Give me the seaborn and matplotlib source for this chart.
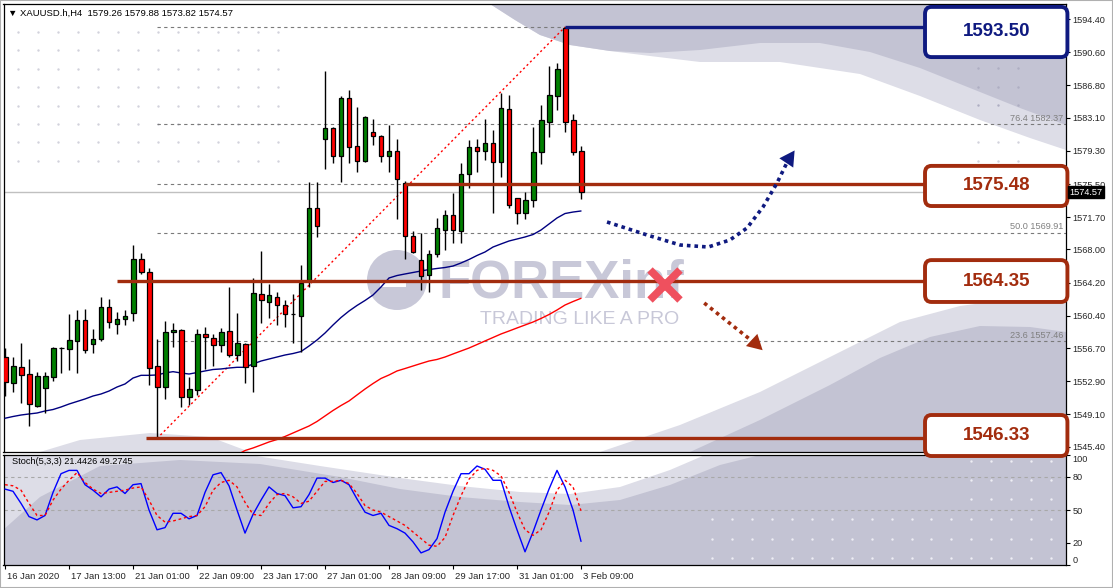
import matplotlib
matplotlib.use("Agg")
import matplotlib.pyplot as plt
import matplotlib.transforms as mtransforms
from matplotlib.patches import Polygon, FancyBboxPatch, Ellipse, Rectangle
import numpy as np
import seaborn as sns

# ---------------------------------------------------------------- data
# XAUUSD H4 candles, bar 0 = 16 Jan 2020 05:00 ... bar 72 = 3 Feb 09:00
opens = [1555.71, 1552.66, 1554.53, 1553.69, 1550.09, 1552.15, 1553.41, 1556.65, 1556.62, 1557.54,
         1559.91, 1557.20, 1557.70, 1561.37, 1559.49, 1560.00, 1560.68, 1566.87, 1565.38, 1554.61,
         1552.20, 1558.50, 1558.77, 1551.05, 1551.89, 1558.27, 1557.81, 1557.01, 1558.62, 1555.87,
         1557.13, 1554.64, 1562.86, 1561.94, 1562.52, 1561.60, 1560.55, 1560.41, 1564.50, 1572.72,
         1580.63, 1581.96, 1578.75, 1585.33, 1579.82, 1578.10, 1581.46, 1580.97, 1578.75, 1579.29,
         1575.65, 1569.54, 1566.79, 1565.04, 1567.48, 1570.23, 1571.91, 1570.12, 1576.62, 1579.74,
         1579.29, 1580.17, 1577.99, 1584.07, 1573.93, 1572.14, 1573.67, 1579.21, 1582.64, 1585.59,
         1593.40, 1582.84, 1579.26]
highs = [1556.70, 1555.64, 1557.24, 1555.41, 1553.92, 1553.92, 1556.85, 1556.85, 1560.60, 1561.06,
         1561.14, 1558.88, 1562.58, 1562.32, 1560.86, 1561.06, 1568.51, 1567.56, 1565.84, 1557.70,
         1559.76, 1559.57, 1558.88, 1553.34, 1558.84, 1559.08, 1558.34, 1558.96, 1563.73, 1560.72,
         1557.24, 1564.73, 1567.86, 1564.00, 1563.09, 1562.17, 1562.86, 1566.22, 1575.70, 1575.70,
         1588.46, 1582.00, 1585.62, 1586.28, 1584.33, 1583.30, 1582.95, 1581.15, 1582.27, 1580.66,
         1575.85, 1570.08, 1569.85, 1567.94, 1571.57, 1572.52, 1574.44, 1577.88, 1580.55, 1580.66,
         1582.95, 1581.69, 1585.97, 1585.67, 1573.93, 1574.55, 1582.00, 1584.56, 1589.06, 1589.41,
         1593.50, 1583.53, 1579.88]
lows = [1551.24, 1551.66, 1550.40, 1547.80, 1549.97, 1549.29, 1552.95, 1553.87, 1554.18, 1553.87,
        1556.09, 1556.16, 1557.54, 1559.03, 1558.27, 1559.34, 1559.83, 1565.15, 1552.46, 1546.33,
        1550.82, 1556.78, 1549.97, 1550.20, 1551.35, 1554.33, 1554.67, 1556.21, 1555.70, 1555.25,
        1552.73, 1551.69, 1559.60, 1560.11, 1559.34, 1559.15, 1557.31, 1556.28, 1563.73, 1569.46,
        1577.19, 1577.88, 1575.77, 1577.94, 1576.91, 1578.00, 1579.97, 1578.06, 1576.84, 1571.46,
        1566.91, 1567.63, 1563.35, 1563.16, 1567.17, 1567.94, 1568.70, 1568.70, 1575.01, 1576.84,
        1578.25, 1572.21, 1576.27, 1572.72, 1570.92, 1571.46, 1572.83, 1577.80, 1580.92, 1583.99,
        1581.50, 1578.83, 1573.82]
closes = [1552.77, 1554.64, 1553.64, 1550.25, 1553.49, 1553.49, 1556.70, 1556.75, 1557.62, 1559.91,
          1556.44, 1557.70, 1561.37, 1559.65, 1559.99, 1560.41, 1566.87, 1565.38, 1554.44, 1552.20,
          1558.50, 1558.77, 1551.05, 1552.00, 1558.27, 1557.93, 1557.01, 1558.57, 1555.87, 1557.31,
          1554.49, 1562.97, 1562.17, 1562.74, 1561.60, 1560.57, 1560.60, 1564.12, 1572.72, 1570.72,
          1581.96, 1578.75, 1585.33, 1579.71, 1578.10, 1583.15, 1580.97, 1578.75, 1579.29, 1576.04,
          1569.54, 1567.71, 1564.99, 1567.44, 1570.42, 1571.91, 1570.23, 1576.62, 1579.74, 1579.29,
          1580.17, 1577.99, 1584.18, 1573.10, 1572.14, 1573.67, 1579.14, 1582.84, 1585.71, 1588.69,
          1582.64, 1579.21, 1574.57]

# moving averages (navy = fast, red = slow; slow one starts below the visible range)
ma_fast = [1548.65, 1548.85, 1549.02, 1549.14, 1549.25, 1549.48, 1549.65, 1549.94, 1550.28, 1550.57,
           1550.86, 1551.20, 1551.43, 1551.77, 1552.23, 1552.58, 1553.26, 1553.57, 1553.57, 1553.61,
           1553.84, 1553.99, 1553.84, 1553.72, 1553.89, 1554.07, 1554.24, 1554.30, 1554.41, 1554.49,
           1554.49, 1554.87, 1555.21, 1555.44, 1555.67, 1555.90, 1556.07, 1556.30, 1556.93, 1557.62,
           1558.42, 1559.34, 1560.20, 1560.94, 1561.58, 1562.15, 1562.78, 1563.70, 1564.73, 1565.01,
           1565.19, 1565.36, 1565.53, 1565.70, 1565.82, 1565.93, 1566.10, 1566.45, 1566.85, 1567.31,
           1567.71, 1568.28, 1568.63, 1568.97, 1569.20, 1569.43, 1569.71, 1570.23, 1570.92, 1571.61,
           1572.12, 1572.29, 1572.41]
ma_slow_first_bar = 28
ma_slow = [1543.86, 1544.44, 1544.95, 1545.24, 1545.58, 1545.93, 1546.21, 1546.56, 1546.96, 1547.36,
           1547.76, 1548.28, 1548.91, 1549.54, 1550.11, 1550.63, 1551.32, 1552.00, 1552.63, 1553.21,
           1553.61, 1554.07, 1554.35, 1554.64, 1554.93, 1555.21, 1555.39, 1555.67, 1556.02, 1556.36,
           1556.70, 1557.10, 1557.51, 1557.91, 1558.31, 1558.65, 1559.00, 1559.34, 1559.68, 1560.09,
           1560.54, 1561.06, 1561.63, 1562.03, 1562.40]

# Stochastic(5,3,3)
stoch_k = [69, 67, 56, 44, 41, 45, 66, 83, 86, 86, 73, 68, 62, 69, 71, 65, 73, 74, 50, 32,
           34, 47, 47, 42, 45, 66, 82, 84, 72, 50, 29, 46, 59, 71, 65, 63, 52, 53, 64, 79,
           79, 75, 77, 73, 60, 48, 45, 47, 36, 33, 29, 21, 11, 14, 24, 48, 67, 83, 83, 90,
           87, 77, 77, 53, 32, 12, 30, 50, 69, 86, 71, 50, 21.44]
stoch_d = [73, 72, 68, 56, 45, 45, 59, 69, 77, 84, 75, 69, 65, 66, 67, 68, 70, 71, 59, 45,
           39, 40, 42, 44, 45, 53, 68, 75, 77, 71, 57, 46, 45, 56, 64, 65, 62, 56, 58, 67,
           76, 76, 77, 74, 65, 54, 50, 48, 44, 40, 36, 30, 24, 18, 17, 25, 45, 63, 78, 86,
           88, 86, 81, 66, 48, 32, 27, 32, 48, 68, 77, 71, 49.27]
stoch_levels = [80, 50]

date_ticks = [0, 8, 16, 24, 32, 40, 48, 56, 64, 72]
date_labels = ["16 Jan 2020", "17 Jan 13:00", "21 Jan 01:00", "22 Jan 09:00", "23 Jan 17:00",
               "27 Jan 01:00", "28 Jan 09:00", "29 Jan 17:00", "31 Jan 01:00", "3 Feb 09:00"]
price_ticks = [1594.40, 1590.60, 1586.80, 1583.10, 1579.30, 1575.50, 1571.70, 1568.00, 1564.20,
               1560.40, 1556.70, 1552.90, 1549.10, 1545.40]
stoch_ticks = [100, 80, 50, 20, 0]

# Fibonacci retracement 1546.33 (bar 19) -> 1593.50 (bar 70)
fib_bars = [19, 70]
fib_ends = [1546.33, 1593.50]
fib_prices = [1546.33, 1557.46, 1564.35, 1569.91, 1575.48, 1582.37, 1593.50]
# only these level captions are visible (the rest sit under the boxes)
fib_label_ratios = ["23.6", "50.0", "76.4"]
fib_label_prices = [1557.46, 1569.91, 1582.37]

# marked levels
key_levels = [1593.50, 1575.48, 1564.35, 1546.33]
key_start_bars = [70, 50, 14, 17.6]
last_price = 1574.57

# scenario arrows
up_path_bars = [75.25, 80.25, 84.4, 87.9, 90.6, 92.75, 94.75, 96.5, 97.9]
up_path_prices = [1571.15, 1569.66, 1568.51, 1568.28, 1569.08, 1570.46, 1572.87, 1575.62, 1578.25]
up_tip = (98.7, 1579.35)
down_path_bars = [87.4, 94.0]
down_path_prices = [1561.86, 1557.05]
down_tip = (94.7, 1556.45)
cross_point = (82.5, 1563.9)

# ---------------------------------------------------------------- style
NAVY = "#0F1A80"
BROWN = "#A22C0E"
DARK_BG = "#C3C3D3"
LIGHT_BG = "#DDDDE7"
W_PX, H_PX = 1113, 588
MAIN_PX = (3.5, 4, 1065.5, 452)     # left, top, right, bottom in pixels
STOCH_PX = (3.5, 455, 1065.5, 565)
XLIM = (-0.19, 132.56)

sns.set_theme(style="white")
plt.rcParams["font.family"] = ["Liberation Sans", "DejaVu Sans"]
plt.rcParams["axes.linewidth"] = 0.9


def fig_rect(px):
    l, t, r, b = px
    return [l / W_PX, 1 - b / H_PX, (r - l) / W_PX, (b - t) / H_PX]


def to_axes(px, pts):
    l, t, r, b = px
    return [((x - l) / (r - l), (b - y) / (b - t)) for x, y in pts]


def bg_poly(ax, px, pts, color, z=0.2):
    ax.add_patch(Polygon(to_axes(px, pts), closed=True, transform=ax.transAxes,
                         fc=color, ec="none", zorder=z))


def dot_grid(ax, px, xs, ys, color, size=3):
    gx, gy = np.meshgrid(xs, ys)
    pts = to_axes(px, list(zip(gx.ravel(), gy.ravel())))
    ax.scatter([p[0] for p in pts], [p[1] for p in pts], s=size, color=color,
               transform=ax.transAxes, zorder=0.5, linewidths=0)


fig = plt.figure(figsize=(W_PX / 100, H_PX / 100), dpi=100)
fig.patch.set_facecolor("white")
ax_st = fig.add_axes(fig_rect(STOCH_PX))
ax = fig.add_axes(fig_rect(MAIN_PX))
ax.set_zorder(3)

bars = np.arange(len(opens))

# ---------------------------------------------------------------- main background watermark
ax.set_facecolor("white")
bg_poly(ax, MAIN_PX, [(490, 4), (515, 20), (540, 35), (570, 45), (610, 51), (650, 56), (700, 62),
                      (780, 62), (860, 74), (920, 96), (980, 120), (1030, 138), (1066, 150), (1066, 4)],
        LIGHT_BG)
bg_poly(ax, MAIN_PX, [(490, 4), (515, 20), (540, 35), (570, 45), (610, 51), (650, 53), (700, 50),
                      (760, 43), (820, 43), (870, 52), (920, 68), (970, 88), (1020, 108), (1066, 125),
                      (1066, 4)], DARK_BG)
bg_poly(ax, MAIN_PX, [(600, 452), (680, 425), (760, 392), (840, 352), (900, 322), (960, 306),
                      (1020, 298), (1066, 295), (1066, 452)], LIGHT_BG)
bg_poly(ax, MAIN_PX, [(690, 452), (760, 420), (830, 385), (880, 358), (930, 337), (980, 326),
                      (1030, 327), (1066, 332), (1066, 452)], DARK_BG)
bg_poly(ax, MAIN_PX, [(40, 452), (80, 440), (150, 433), (210, 437), (250, 452)], LIGHT_BG)
dot_grid(ax, MAIN_PX, np.arange(18, 280, 20), np.arange(32, 165, 18.4), "#D2D2DC")
dot_grid(ax, MAIN_PX, [978, 998, 1018], [68, 86.5, 105], "#AEAEC2")
dot_grid(ax, MAIN_PX, [978, 998, 1018], [142, 160.5], "#D2D2DC")

ax.add_patch(Ellipse(to_axes(MAIN_PX, [(397, 280)])[0], 60 / 1062, 60 / 448,
                     transform=ax.transAxes, fc="#C8C8D8", ec="none", zorder=1))
ax.add_patch(Rectangle(to_axes(MAIN_PX, [(380, 287)])[0], 26 / 1062, 7 / 448,
                       transform=ax.transAxes, fc="white", ec="none", zorder=1.1))
ax.text(*to_axes(MAIN_PX, [(438, 283)])[0], "FOREXinf", transform=ax.transAxes, ha="left",
        va="center", fontsize=38, fontweight="bold", color="#C8C8D8", zorder=1)
ax.text(*to_axes(MAIN_PX, [(480, 320)])[0], "TRADING LIKE A PRO", transform=ax.transAxes,
        ha="left", va="center", fontsize=14, color="#C8C8D8", zorder=1)

# ---------------------------------------------------------------- fibo + reference lines
ax.hlines(fib_prices, fib_bars[0], XLIM[1], colors="#7A7A7A", linestyles=(0, (3, 3)), lw=0.8, zorder=2)
for ratio, price in zip(fib_label_ratios, fib_label_prices):
    ax.text(XLIM[1] - 0.3, price + 0.15, f"{ratio} {price:.2f}", ha="right", va="bottom",
            fontsize=6.6, color="#808080", zorder=2)
ax.plot(fib_bars, fib_ends, color="red", lw=1, ls=(0, (1.5, 2)), zorder=3)
ax.axhline(last_price, color="#C0C0C0", lw=1, zorder=2)

# ---------------------------------------------------------------- moving averages
sns.lineplot(x=bars, y=ma_fast, ax=ax, color="#000080", lw=1, zorder=3)
sns.lineplot(x=np.arange(ma_slow_first_bar, ma_slow_first_bar + len(ma_slow)), y=ma_slow, ax=ax,
             color="red", lw=1, zorder=3)

# ---------------------------------------------------------------- candles
o = np.array(opens)
c = np.array(closes)
up = c >= o
ax.vlines(bars, lows, highs, color="black", lw=1, zorder=4)
ax.bar(bars, np.maximum(np.abs(c - o), 0.06), bottom=np.minimum(o, c), width=0.62,
       color=np.where(up, "#008000", "#FF0000"), edgecolor="black", linewidth=0.9, zorder=5)

# ---------------------------------------------------------------- marked levels with boxes
box_left, box_right = 115.0, 132.8
box_layout = [(-0.57, 5.75), (-0.2, 4.6), (0.03, 4.8), (0.34, 4.7)]  # center offset, height
for level, start, (off, hgt) in zip(key_levels, key_start_bars, box_layout):
    col = NAVY if level == max(key_levels) else BROWN
    ax.hlines(level, start, box_left, color=col, lw=2.4, zorder=6)
    cy = level + off
    ax.add_patch(FancyBboxPatch((box_left, cy - hgt / 2), box_right - box_left, hgt,
                                boxstyle="round,pad=0,rounding_size=0.8", fc="white", ec=col,
                                lw=2.8, zorder=8, clip_on=False))
    ax.text((box_left + box_right) / 2, cy, f"{level:.2f}", ha="center", va="center",
            fontsize=13.5, fontweight="bold", color=col, zorder=9, clip_on=False)

# ---------------------------------------------------------------- scenario arrows
ax.plot(up_path_bars, up_path_prices, color=NAVY, lw=2.6, ls=(0, (1, 1.1)), zorder=7)
ax.annotate("", xy=up_tip, xytext=(up_path_bars[-1], up_path_prices[-1]),
            arrowprops=dict(arrowstyle="-|>,head_length=0.9,head_width=0.5", color=NAVY, lw=0,
                            shrinkA=0, shrinkB=0), zorder=7)
ax.plot(down_path_bars, down_path_prices, color=BROWN, lw=2.6, ls=(0, (1, 1.1)), zorder=7)
ax.annotate("", xy=down_tip, xytext=(down_path_bars[-1], down_path_prices[-1]),
            arrowprops=dict(arrowstyle="-|>,head_length=0.9,head_width=0.5", color=BROWN, lw=0,
                            shrinkA=0, shrinkB=0), zorder=7)
ax.plot(*cross_point, marker="x", ms=22, mew=5.5, color="#EF505E", zorder=7)

# ---------------------------------------------------------------- main axes cosmetics
ax.set_xlim(*XLIM)
ax.set_ylim(1544.78, 1596.14)
ax.set_xlabel("")
ax.set_ylabel("")
ax.tick_params(axis="x", length=0, labelbottom=False)
ax.yaxis.tick_right()
ax.set_yticks(price_ticks)
ax.set_yticklabels([f"{v:.2f}" for v in price_ticks])
ax.tick_params(axis="y", right=True, length=3, width=0.8, pad=2, labelsize=6.6, color="black")
for s in ax.spines.values():
    s.set_color("black")
    s.set_linewidth(0.9)
ax.text(1.004, last_price, f"{last_price:.2f}", transform=mtransforms.blended_transform_factory(
    ax.transAxes, ax.transData), ha="left", va="center", fontsize=6.6, color="white",
        bbox=dict(boxstyle="square,pad=0.15", fc="black", ec="black"), zorder=10, clip_on=False)
fig.text(8 / W_PX, 1 - 13 / H_PX, "\u25bc XAUUSD.h,H4  1579.26 1579.88 1573.82 1574.57",
         ha="left", va="center", fontsize=6.8, color="black")

# ---------------------------------------------------------------- stochastic panel
ax_st.set_facecolor(DARK_BG)
bg_poly(ax_st, STOCH_PX, [(3, 455), (760, 455), (720, 465), (670, 485), (620, 500), (570, 505),
                          (520, 502), (460, 497), (400, 489), (340, 477), (260, 464), (180, 460),
                          (100, 466), (40, 497), (3, 530)], LIGHT_BG)
bg_poly(ax_st, STOCH_PX, [(250, 455), (705, 455), (670, 470), (620, 487), (570, 494), (520, 492),
                          (460, 486), (400, 478), (320, 466)], "white")
dot_grid(ax_st, STOCH_PX, np.arange(712, 1055, 19.95), [519, 539, 558], "#EEEEF4")
dot_grid(ax_st, STOCH_PX, np.arange(971, 1055, 19.95), [461, 480, 499], "#EEEEF4")

for lv in stoch_levels:
    ax_st.axhline(lv, color="#A8A8A8", lw=0.8, ls=(0, (3, 3)), zorder=1)
sns.lineplot(x=bars, y=stoch_k, ax=ax_st, color="#0000FF", lw=1, zorder=3)
sns.lineplot(x=bars, y=stoch_d, ax=ax_st, color="red", lw=1, ls=(0, (2, 2)), zorder=3)

ax_st.set_xlim(*XLIM)
ax_st.set_ylim(0, 100)
ax_st.set_xlabel("")
ax_st.set_ylabel("")
ax_st.yaxis.tick_right()
ax_st.set_yticks(stoch_ticks)
ax_st.set_yticklabels([str(v) for v in stoch_ticks])
ax_st.tick_params(axis="y", right=True, length=3, width=0.8, pad=2, labelsize=6.6, color="black")
for lab, v in zip(ax_st.get_yticklabels(), stoch_ticks):
    if v == 100:
        lab.set_va("top")
    elif v == 0:
        lab.set_va("bottom")
ax_st.set_xticks(date_ticks)
ax_st.set_xticklabels(date_labels, ha="left")
ax_st.tick_params(axis="x", bottom=True, length=3, width=0.8, pad=2, labelsize=6.8, color="black")
shift = mtransforms.ScaledTranslation(2 / 100, 0, fig.dpi_scale_trans)
for lab in ax_st.get_xticklabels():
    lab.set_transform(lab.get_transform() + shift)
for s in ax_st.spines.values():
    s.set_color("black")
    s.set_linewidth(0.9)
ax_st.text(8 / 1062, 1 - 7 / 110, "Stoch(5,3,3) 21.4426 49.2745", transform=ax_st.transAxes,
           ha="left", va="center", fontsize=6.6, color="black", zorder=5)

fig.patches.append(Rectangle((0, 0), 1, 1, transform=fig.transFigure, fill=False,
                             ec="#B0B0B0", lw=1.5))

fig.savefig("out.png", dpi=100)
